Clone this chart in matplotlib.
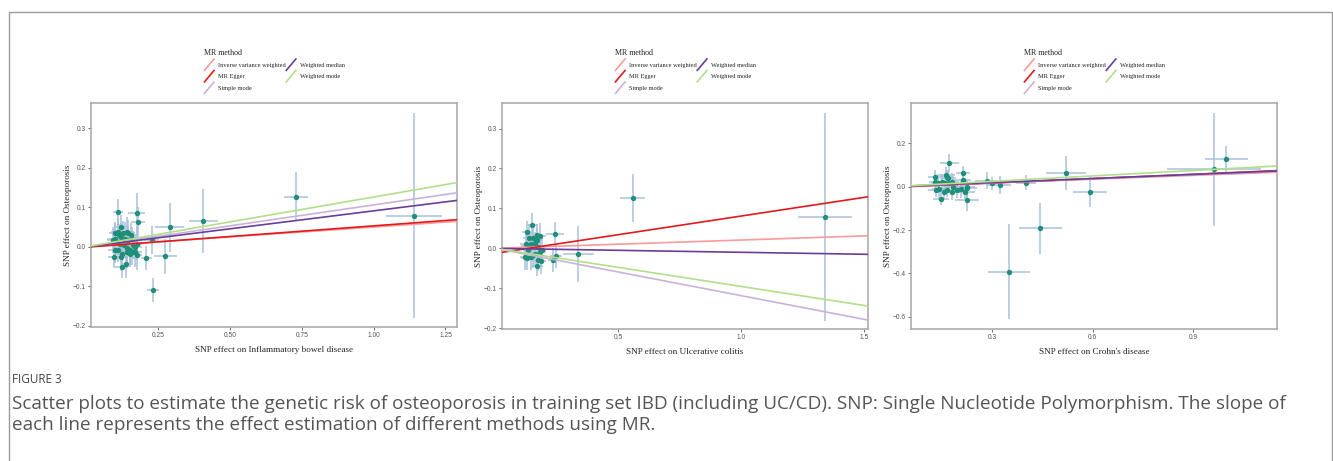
import matplotlib
matplotlib.use("Agg")
import matplotlib.pyplot as plt
from matplotlib.lines import Line2D
from matplotlib.legend_handler import HandlerBase
from matplotlib.patches import Rectangle

# ---- data ----
methods = ["Inverse variance weighted", "MR Egger", "Simple mode", "Weighted median", "Weighted mode"]
method_colors = ["#fb9a99", "#e31a1c", "#cab2d6", "#6a3d9a", "#b2df8a"]

# IBD
ibd_x = [0.100, 0.110, 0.115, 0.100, 0.095, 0.106, 0.121, 0.129, 0.141, 0.147, 0.156, 0.135, 0.147, 0.158, 0.118,
         0.133, 0.141, 0.152, 0.164, 0.170, 0.176, 0.100, 0.112, 0.124, 0.098, 0.121, 0.141, 0.152, 0.176, 0.124,
         0.139, 0.158, 0.170,
         0.110, 0.176, 0.180, 0.121, 0.291, 0.228, 0.210, 0.275, 0.233, 0.407, 0.730, 1.140]
ibd_y = [0.034, 0.038, 0.030, 0.021, 0.017, 0.013, 0.025, 0.034, 0.038, 0.034, 0.030, 0.021, 0.017, 0.021, 0.008,
         0.004, -0.004, -0.007, 0.004, 0.000, 0.008, -0.008, -0.007, -0.017, -0.025, -0.025, -0.013, -0.017, -0.021, -0.052,
         -0.044, -0.013, -0.013,
         0.087, 0.085, 0.062, 0.051, 0.049, 0.017, -0.029, -0.024, -0.110, 0.066, 0.127, 0.079]
ibd_sex = [0.020, 0.024, 0.018, 0.026, 0.022, 0.019, 0.025, 0.021, 0.027, 0.023, 0.020, 0.028, 0.024, 0.019, 0.026,
           0.022, 0.025, 0.021, 0.027, 0.023, 0.020, 0.024, 0.018, 0.026, 0.022, 0.025, 0.021, 0.027, 0.020, 0.023,
           0.019, 0.028, 0.024,
           0.018, 0.030, 0.025, 0.020, 0.050, 0.025, 0.018, 0.040, 0.020, 0.050, 0.043, 0.097]
ibd_sey = [0.030, 0.035, 0.028, 0.040, 0.033, 0.030, 0.036, 0.031, 0.038, 0.034, 0.029, 0.041, 0.035, 0.030, 0.037,
           0.032, 0.039, 0.033, 0.036, 0.030, 0.042, 0.034, 0.031, 0.038, 0.029, 0.035, 0.040, 0.033, 0.037, 0.028,
           0.036, 0.032, 0.039,
           0.034, 0.052, 0.040, 0.030, 0.061, 0.035, 0.030, 0.045, 0.030, 0.081, 0.062, 0.260]
ibd_slope = [0.050, 0.054, 0.106, 0.091, 0.126]
ibd_icept = [0.0, -0.001, 0.0, 0.0, 0.0]

# UC
uc_x = [0.150, 0.127, 0.137, 0.168, 0.182, 0.155, 0.123, 0.145, 0.161, 0.175, 0.188, 0.134, 0.121, 0.127, 0.155,
        0.175, 0.186, 0.168, 0.161, 0.182, 0.145, 0.130, 0.170,
        0.243, 0.247, 0.236, 0.338, 0.559, 1.341]
uc_y = [0.058, 0.042, 0.027, 0.033, 0.032, 0.025, 0.012, 0.012, 0.014, 0.004, -0.004, -0.004, -0.021, -0.025, -0.017,
        -0.029, -0.031, -0.044, -0.013, -0.008, -0.022, 0.005, 0.020,
        0.035, -0.019, -0.029, -0.015, 0.127, 0.079]
uc_sex = [0.022, 0.018, 0.025, 0.020, 0.023, 0.019, 0.024, 0.021, 0.018, 0.026, 0.020, 0.022, 0.019, 0.024, 0.021,
          0.023, 0.018, 0.025, 0.020, 0.022, 0.019, 0.024, 0.021,
          0.035, 0.025, 0.020, 0.062, 0.050, 0.110]
uc_sey = [0.030, 0.026, 0.034, 0.028, 0.031, 0.025, 0.033, 0.029, 0.027, 0.032, 0.030, 0.026, 0.034, 0.028, 0.031,
          0.027, 0.033, 0.025, 0.030, 0.029, 0.032, 0.027, 0.031,
          0.030, 0.030, 0.030, 0.070, 0.060, 0.260]
uc_slope = [0.0208, 0.0934, -0.1185, -0.0099, -0.0954]
uc_icept = [0.0, -0.0125, 0.0, 0.0, 0.0]

# CD
cd_x = [0.172, 0.129, 0.162, 0.166, 0.169, 0.212, 0.212, 0.129, 0.139, 0.149, 0.159, 0.179, 0.223, 0.132, 0.142,
        0.156, 0.164, 0.179, 0.194, 0.206, 0.219, 0.146, 0.225, 0.172, 0.184, 0.223,
        0.283, 0.298, 0.322, 0.400, 0.350, 0.443, 0.520, 0.592, 0.962, 1.000]
cd_y = [0.111, 0.046, 0.054, 0.046, 0.039, 0.062, 0.031, 0.023, 0.019, 0.023, 0.019, 0.023, 0.000, -0.015, -0.012,
        -0.023, -0.015, -0.023, -0.015, -0.012, -0.023, -0.058, -0.061, 0.016, 0.000, -0.008,
        0.028, 0.015, 0.008, 0.018, -0.392, -0.192, 0.063, -0.024, 0.080, 0.128]
cd_sex = [0.029, 0.022, 0.026, 0.020, 0.024, 0.021, 0.025, 0.019, 0.023, 0.027, 0.022, 0.020, 0.026, 0.024, 0.021,
          0.025, 0.019, 0.023, 0.027, 0.022, 0.028, 0.024, 0.035, 0.021, 0.026, 0.030,
          0.035, 0.030, 0.035, 0.030, 0.062, 0.064, 0.059, 0.051, 0.140, 0.063]
cd_sey = [0.042, 0.030, 0.036, 0.033, 0.038, 0.034, 0.040, 0.031, 0.035, 0.037, 0.032, 0.039, 0.036, 0.033, 0.038,
          0.034, 0.031, 0.037, 0.035, 0.040, 0.033, 0.028, 0.050, 0.036, 0.034, 0.038,
          0.040, 0.030, 0.040, 0.035, 0.220, 0.117, 0.080, 0.070, 0.260, 0.062]
cd_slope = [0.058, 0.067, 0.061, 0.063, 0.083]
cd_icept = [0.0, -0.003, 0.0, 0.0, 0.0]

panels = [
    dict(x=ibd_x, y=ibd_y, sex=ibd_sex, sey=ibd_sey, slope=ibd_slope, icept=ibd_icept,
         xlabel="SNP effect on Inflammatory bowel disease",
         xlim=(0.017, 1.29), ylim=(-0.203, 0.364),
         xticks=[0.25, 0.50, 0.75, 1.00, 1.25], xticklabels=["0.25", "0.50", "0.75", "1.00", "1.25"],
         yticks=[-0.2, -0.1, 0.0, 0.1, 0.2, 0.3], yticklabels=["\u22120.2", "\u22120.1", "0.0", "0.1", "0.2", "0.3"],
         box=(91, 457, 103, 327)),
    dict(x=uc_x, y=uc_y, sex=uc_sex, sey=uc_sey, slope=uc_slope, icept=uc_icept,
         xlabel="SNP effect on Ulcerative colitis",
         xlim=(0.027, 1.516), ylim=(-0.202, 0.364),
         xticks=[0.5, 1.0, 1.5], xticklabels=["0.5", "1.0", "1.5"],
         yticks=[-0.2, -0.1, 0.0, 0.1, 0.2, 0.3], yticklabels=["\u22120.2", "\u22120.1", "0.0", "0.1", "0.2", "0.3"],
         box=(502, 868, 103, 329)),
    dict(x=cd_x, y=cd_y, sex=cd_sex, sey=cd_sey, slope=cd_slope, icept=cd_icept,
         xlabel="SNP effect on Crohn's disease",
         xlim=(0.057, 1.151), ylim=(-0.656, 0.386),
         xticks=[0.3, 0.6, 0.9], xticklabels=["0.3", "0.6", "0.9"],
         yticks=[-0.6, -0.4, -0.2, 0.0, 0.2], yticklabels=["\u22120.6", "\u22120.4", "\u22120.2", "0.0", "0.2"],
         box=(911, 1277, 103, 329)),
]

W, H = 1333, 461
serif = "Liberation Serif"


class DiagHandler(HandlerBase):
    # ggplot style abline key: a diagonal stroke
    def create_artists(self, legend, orig_handle, xdescent, ydescent, width, height, fontsize, trans):
        ln = Line2D([-xdescent, -xdescent + width], [-ydescent - 1, -ydescent + height + 1],
                    color=orig_handle.get_color(), lw=orig_handle.get_linewidth(), transform=trans)
        return [ln]


fig = plt.figure(figsize=(W / 100, H / 100), dpi=100)

# outer frame of the figure panel
fig.patches.append(Rectangle((9 / W, -0.05), (1332 - 9) / W, 1.05 - 12 / H, transform=fig.transFigure,
                             fill=False, edgecolor="#9a9a9a", lw=1.0))

for p in panels:
    l, r, t, b = p["box"]
    ax = fig.add_axes([l / W, 1 - b / H, (r - l) / W, (b - t) / H])
    ax.errorbar(p["x"], p["y"], xerr=p["sex"], yerr=p["sey"], fmt="none",
                ecolor="#a9c1de", elinewidth=1.1, capsize=0, zorder=1)
    ax.scatter(p["x"], p["y"], s=15, color="#1f8f78", zorder=2, linewidths=0)
    handles = []
    for m, c, s, i in zip(methods, method_colors, p["slope"], p["icept"]):
        ax.axline((0, i), slope=s, color=c, lw=1.2, zorder=3)
        handles.append(Line2D([], [], color=c, lw=1.2, label=m))
    ax.set_xlim(*p["xlim"])
    ax.set_ylim(*p["ylim"])
    ax.set_xticks(p["xticks"])
    ax.set_xticklabels(p["xticklabels"])
    ax.set_yticks(p["yticks"])
    ax.set_yticklabels(p["yticklabels"])
    ax.tick_params(length=2, width=0.6, color="#555555", labelsize=4.8, labelcolor="#555555", pad=1.5)
    for lab in ax.get_xticklabels() + ax.get_yticklabels():
        lab.set_family("Liberation Sans")
    for sp in ax.spines.values():
        sp.set_color("#a6a6a6")
        sp.set_linewidth(1.1)
    ax.set_xlabel(p["xlabel"], family=serif, fontsize=6.6, color="#222222", labelpad=5)
    ax.set_ylabel("SNP effect on Osteoporosis", family=serif, fontsize=6.6, color="#222222", labelpad=0.5)

    leg = fig.legend(handles=handles, loc="upper left", bbox_to_anchor=((l + 109) / W, 1 - 45 / H),
                     ncol=2, frameon=False, title="MR method", alignment="left",
                     prop={"family": serif, "size": 4.6}, handler_map={Line2D: DiagHandler()},
                     handlelength=1.5, handleheight=1.7, handletextpad=0.6, labelspacing=0.45,
                     columnspacing=0.1, borderpad=0.2)
    leg.get_title().set_family(serif)
    leg.get_title().set_fontsize(5.8)
    leg.get_title().set_color("#222222")
    for tx in leg.get_texts():
        tx.set_color("#222222")

fig.text(12 / W, 1 - 379 / H, "FIGURE 3", family="Open Sans", fontsize=8.5, color="#444444", va="center")
fig.text(12 / W, 1 - 404 / H,
         "Scatter plots to estimate the genetic risk of osteoporosis in training set IBD (including UC/CD). "
         "SNP: Single Nucleotide Polymorphism. The slope of",
         family="Open Sans", fontsize=13.6, color="#555555", va="center")
fig.text(12 / W, 1 - 425 / H, "each line represents the effect estimation of different methods using MR.",
         family="Open Sans", fontsize=13.6, color="#555555", va="center")

fig.savefig("out.png", dpi=100, facecolor="white")
